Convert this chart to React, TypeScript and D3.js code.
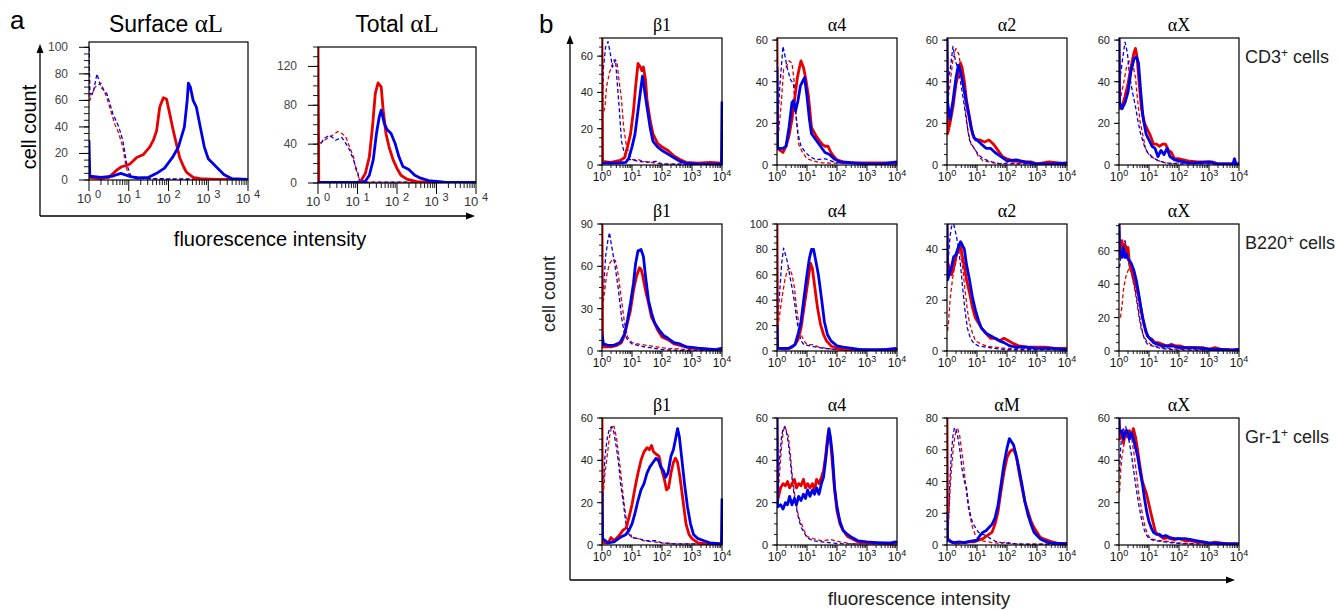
import React from "react";
import * as d3 from "d3";

type Pt = [number, number];

// x values are log10 fluorescence (decades 0..4), y values are cell counts

// ---- panel a, Surface alphaL ----
const surfRedSolid: Pt[] = [[0,2],[0.3,1],[0.5,2],[0.61,5],[0.72,8],[0.82,10],[0.95,11],[1.03,12],[1.2,17],[1.36,19],[1.53,25],[1.62,30],[1.7,37],[1.78,55],[1.87,62],[1.95,61],[2.03,50],[2.1,40],[2.16,32],[2.28,17],[2.38,10],[2.45,6],[2.62,2],[2.8,1],[3.2,0.5],[4,0.5]];
const surfBlueSolid: Pt[] = [[0,30],[0.02,3],[0.3,2],[0.6,3],[0.8,5],[1.0,3],[1.2,1.5],[1.5,2],[1.7,5],[1.9,9],[2.1,17],[2.25,25],[2.4,40],[2.47,60],[2.5,73],[2.55,70],[2.62,60],[2.7,55],[2.8,40],[2.9,25],[3.0,16],[3.2,10],[3.4,4],[3.6,1],[4,0.5]];
const surfRedDash: Pt[] = [[0,100],[0.02,60],[0.15,70],[0.3,73],[0.45,62],[0.55,52],[0.65,42],[0.75,35],[0.85,25],[0.93,10],[1.0,4],[1.3,1],[2,0.5],[4,0.5]];
const surfBlueDash: Pt[] = [[0,100],[0.02,65],[0.1,65],[0.2,80],[0.3,70],[0.45,65],[0.6,50],[0.75,40],[0.85,30],[0.95,12],[1.05,3],[1.5,1],[4,0.5]];

// ---- panel a, Total alphaL ----
const totRedSolid: Pt[] = [[0,140],[0.02,0.5],[1.0,0.5],[1.1,3],[1.2,10],[1.3,27],[1.38,58],[1.45,92],[1.52,103],[1.6,99],[1.65,75],[1.72,51],[1.8,37],[1.9,24],[2.0,15],[2.1,8],[2.25,4],[2.5,1.5],[2.8,0.5],[4,0.5]];
const totBlueSolid: Pt[] = [[0,0.5],[1.1,0.5],[1.2,2],[1.3,8],[1.4,24],[1.48,51],[1.55,68],[1.6,75],[1.68,61],[1.75,55],[1.85,51],[1.95,41],[2.05,27],[2.15,17],[2.3,14],[2.45,8],[2.6,5],[2.8,2.5],[3.2,1],[3.8,0.5],[4,0.5]];
const totRedDash: Pt[] = [[0,140],[0.02,40],[0.2,45],[0.4,50],[0.5,53],[0.6,51],[0.7,48],[0.8,37],[0.9,27],[0.95,15],[1.0,10],[1.05,3],[1.2,1],[3.5,1],[4,0.5]];
const totBlueDash: Pt[] = [[0,35],[0.15,46],[0.3,49],[0.45,44],[0.6,47],[0.7,41],[0.8,34],[0.9,24],[0.95,17],[1.0,12],[1.05,3],[1.2,1],[4,0.5]];

// ---- panel b, CD3+ row ----
const cd3B1RS: Pt[] = [[0,70],[0.02,2],[0.3,1.5],[0.6,2.5],[0.75,4],[0.85,10],[0.95,17],[1.05,30],[1.12,43],[1.2,56],[1.28,54],[1.33,52],[1.38,54],[1.45,47],[1.5,36],[1.6,25],[1.7,17],[1.85,12],[2.0,10],[2.2,8],[2.4,5],[2.6,3],[2.8,1.5],[3.2,1],[3.6,1.5],[4,1]];
const cd3B1BS: Pt[] = [[0,1],[0.5,1],[0.8,1.5],[0.9,4],[1.0,10],[1.1,17],[1.2,30],[1.3,43],[1.35,49],[1.42,41],[1.5,32],[1.6,21],[1.7,13],[1.85,10],[2.0,8],[2.2,6],[2.4,4],[2.6,2],[2.8,1],[3.2,0.5],[3.98,0.5],[4,35]];
const cd3B1RD: Pt[] = [[0,26],[0.1,32],[0.15,43],[0.25,51],[0.4,58],[0.5,57],[0.55,49],[0.65,36],[0.72,21],[0.8,12],[0.9,6],[1.0,3],[1.2,3],[1.4,2],[1.8,1],[2.2,0.5],[4,0.5]];
const cd3B1BD: Pt[] = [[0,17],[0.05,54],[0.12,65],[0.2,68],[0.27,62],[0.35,54],[0.45,58],[0.5,47],[0.58,30],[0.65,13],[0.75,6],[0.85,3],[1.0,3],[1.2,2],[1.5,1.5],[1.8,2],[2.0,0.5],[4,0.5]];

const cd3A4RS: Pt[] = [[0,61],[0.02,8],[0.2,6],[0.3,9],[0.4,14],[0.5,22],[0.6,33],[0.68,42],[0.75,47],[0.8,50],[0.88,47],[0.95,42],[1.05,33],[1.15,18],[1.3,14],[1.4,12],[1.5,10],[1.6,9],[1.7,9],[1.8,6],[1.9,4],[2.0,2.5],[2.2,1.5],[2.6,1],[3.2,1],[4,1]];
const cd3A4BS: Pt[] = [[0,47],[0.02,8],[0.2,8],[0.3,9],[0.4,18],[0.5,30],[0.55,31],[0.62,26],[0.7,31],[0.78,38],[0.85,40],[0.92,42],[1.0,33],[1.08,22],[1.15,15],[1.3,12],[1.45,9],[1.6,6],[1.75,5],[1.9,3],[2.1,1.5],[2.5,1],[3,0.5],[3.5,0.5],[4,1.5]];
const cd3A4RD: Pt[] = [[0.02,10],[0.15,31],[0.22,46],[0.3,47],[0.4,50],[0.5,49],[0.58,39],[0.65,22],[0.72,10],[0.85,6],[1.0,3],[1.2,2],[1.5,1],[4,0.5]];
const cd3A4BD: Pt[] = [[0.02,20],[0.1,39],[0.2,57],[0.27,52],[0.35,46],[0.45,41],[0.55,39],[0.62,25],[0.7,15],[0.8,9],[0.95,6],[1.1,4],[1.3,2.5],[1.6,3],[1.8,2],[2.0,1],[4,0.5]];

const cd3A2RS: Pt[] = [[0,61],[0.02,15],[0.1,20],[0.2,28],[0.3,39],[0.4,45],[0.45,49],[0.5,47],[0.58,40],[0.65,31],[0.75,23],[0.85,15],[0.95,12],[1.1,12],[1.25,11],[1.4,12],[1.55,10],[1.7,7],[1.85,4],[2.0,3],[2.2,2],[2.5,1.5],[2.8,1.5],[3.0,0.5],[3.4,1.5],[3.7,1],[4,0.5]];
const cd3A2BS: Pt[] = [[0,61],[0.02,30],[0.1,22],[0.2,31],[0.3,42],[0.38,48],[0.45,45],[0.52,40],[0.6,34],[0.7,26],[0.8,18],[0.9,13],[1.0,12],[1.15,10],[1.3,8],[1.45,8],[1.6,6],[1.8,4],[2.0,2],[2.3,2.5],[2.6,1.5],[3,0.5],[3.5,0.5],[4,1]];
const cd3A2RD: Pt[] = [[0.02,30],[0.1,39],[0.2,51],[0.3,56],[0.4,53],[0.5,42],[0.6,29],[0.7,16],[0.8,10],[0.95,7],[1.05,4],[1.2,2],[1.4,1.5],[1.7,0.5],[2,1],[4,0.5]];
const cd3A2BD: Pt[] = [[0.02,40],[0.1,45],[0.2,57],[0.28,50],[0.35,47],[0.45,40],[0.55,31],[0.65,21],[0.75,12],[0.9,8],[1.05,5],[1.2,3],[1.5,1.5],[1.8,0.5],[4,0.5]];

const cd3AXRS: Pt[] = [[0,61],[0.02,27],[0.1,28],[0.2,33],[0.3,39],[0.4,47],[0.5,54],[0.55,56],[0.6,52],[0.68,38],[0.75,27],[0.85,20],[0.95,17],[1.05,14],[1.15,10],[1.25,10],[1.35,9],[1.45,10],[1.55,10],[1.65,7],[1.75,6],[1.85,3],[2.0,3],[2.3,2],[2.6,1.5],[2.9,1.5],[3.1,1.5],[3.3,0.5],[4,0.5]];
const cd3AXBS: Pt[] = [[0,61],[0.02,30],[0.1,27],[0.2,30],[0.3,35],[0.4,45],[0.5,51],[0.58,52],[0.65,49],[0.72,36],[0.8,23],[0.9,15],[1.0,12],[1.1,9],[1.2,8],[1.3,4],[1.4,7],[1.5,5],[1.6,8],[1.7,4],[1.85,2.5],[2.0,2],[2.3,1],[2.6,1],[3,1.5],[3.3,0.5],[3.8,0.5],[3.85,3],[3.9,0.5],[4,0.5]];
const cd3AXRD: Pt[] = [[0.02,30],[0.15,39],[0.25,47],[0.35,50],[0.45,49],[0.55,42],[0.62,31],[0.7,21],[0.8,14],[0.9,7],[1.05,4],[1.2,3],[1.4,1.5],[1.7,0.5],[2,1],[4,0.5]];
const cd3AXBD: Pt[] = [[0.02,40],[0.12,51],[0.2,59],[0.28,54],[0.35,43],[0.45,35],[0.55,28],[0.62,22],[0.72,15],[0.85,9],[0.95,6],[1.1,4],[1.3,2],[1.6,1],[2,0.5],[4,0.5]];

// ---- panel b, B220+ row ----
const b220B1RS: Pt[] = [[0,90],[0.02,3],[0.3,3],[0.5,4],[0.65,6],[0.75,11],[0.85,20],[0.95,29],[1.05,43],[1.15,53],[1.25,59],[1.3,58],[1.35,54],[1.45,43],[1.55,34],[1.65,24],[1.75,20],[1.85,15],[2.0,10],[2.2,8],[2.4,5],[2.6,4],[2.8,3],[3.0,2],[3.3,1.5],[3.6,1],[4,0.5]];
const b220B1BS: Pt[] = [[0,12],[0.05,5],[0.2,4],[0.4,4],[0.6,6],[0.75,12],[0.85,22],[0.95,34],[1.05,48],[1.12,62],[1.2,71],[1.3,72],[1.38,67],[1.45,53],[1.55,36],[1.65,27],[1.75,20],[1.9,15],[2.05,11],[2.2,9],[2.4,6],[2.6,5],[2.8,3],[3.0,2.5],[3.2,2],[3.5,1.5],[3.8,1],[4,2]];
const b220B1RD: Pt[] = [[0.02,30],[0.05,36],[0.15,53],[0.25,62],[0.35,65],[0.45,64],[0.55,53],[0.65,36],[0.75,20],[0.85,10],[1.0,6],[1.2,5],[1.5,4],[1.8,3],[2.1,2],[2.5,1.5],[3,1],[4,0.5]];
const b220B1BD: Pt[] = [[0.02,30],[0.05,43],[0.12,67],[0.2,79],[0.25,84],[0.3,77],[0.38,67],[0.45,58],[0.55,43],[0.65,24],[0.75,12],[0.85,8],[1.0,5],[1.2,4],[1.4,3],[1.7,2],[2,1],[2.5,0.5],[4,0.5]];

const b220A4RS: Pt[] = [[0,100],[0.02,2],[0.3,1.5],[0.5,3],[0.6,5],[0.7,9],[0.8,18],[0.9,34],[1.0,50],[1.08,63],[1.12,69],[1.18,65],[1.25,52],[1.35,34],[1.45,21],[1.55,13],[1.65,8],[1.8,4],[2.0,2],[2.3,1],[2.7,1],[3.2,0.5],[3.7,1],[4,0.5]];
const b220A4BS: Pt[] = [[0,20],[0.02,2],[0.4,2],[0.6,5],[0.7,13],[0.8,23],[0.9,42],[1.0,60],[1.08,73],[1.15,80],[1.22,80],[1.3,70],[1.38,60],[1.48,42],[1.58,23],[1.68,13],[1.8,8],[2.0,4],[2.2,3],[2.5,2],[2.8,1],[3.2,1],[3.6,1],[3.95,2],[4,1]];
const b220A4RD: Pt[] = [[0.02,18],[0.12,34],[0.2,47],[0.27,57],[0.35,64],[0.42,65],[0.5,60],[0.58,50],[0.65,34],[0.72,23],[0.8,13],[0.9,8],[1.0,5],[1.2,5],[1.4,3],[1.7,2],[2,1],[4,0.5]];
const b220A4BD: Pt[] = [[0.02,23],[0.1,50],[0.16,70],[0.22,81],[0.28,76],[0.35,70],[0.42,60],[0.5,50],[0.58,39],[0.65,26],[0.72,16],[0.8,8],[0.9,5],[1.1,4],[1.3,3],[1.6,2],[2,1],[4,0.5]];

const b220A2RS: Pt[] = [[0,50],[0.02,35],[0.15,30],[0.25,34],[0.32,38],[0.4,40],[0.45,42],[0.5,38],[0.58,33],[0.65,28],[0.75,23],[0.85,17],[0.95,13],[1.05,11],[1.15,9],[1.3,7],[1.45,5],[1.6,5],[1.75,4],[1.9,5],[2.05,4],[2.2,3],[2.4,2],[2.7,1.5],[3.0,1.5],[3.3,1.5],[3.6,1],[4,1]];
const b220A2BS: Pt[] = [[0,50],[0.02,28],[0.15,33],[0.22,37],[0.3,38],[0.38,41],[0.45,43],[0.5,42],[0.58,40],[0.65,34],[0.75,28],[0.85,21],[0.95,16],[1.05,12],[1.15,9],[1.3,7],[1.45,6],[1.6,5],[1.75,4],[1.9,3.3],[2.1,2],[2.3,1.5],[2.6,1.5],[3,1],[3.5,1],[4,0.5]];
const b220A2RD: Pt[] = [[0.02,8],[0.05,11],[0.1,20],[0.18,28],[0.25,33],[0.32,38],[0.4,41],[0.45,40],[0.52,33],[0.6,24],[0.68,16],[0.75,11],[0.85,7],[0.95,4],[1.1,3],[1.3,2],[1.6,1.5],[2,1],[4,0.5]];
const b220A2BD: Pt[] = [[0.02,30],[0.05,37],[0.1,45],[0.15,49],[0.22,50],[0.3,46],[0.38,41],[0.45,34],[0.52,25],[0.6,16],[0.68,9],[0.78,5],[0.9,3],[1.05,2],[1.3,1.5],[1.6,1],[2,0.5],[4,0.5]];

const b220AXRS: Pt[] = [[0,76],[0.02,56],[0.1,66],[0.15,58],[0.2,64],[0.25,56],[0.3,62],[0.35,52],[0.42,48],[0.5,44],[0.6,37],[0.68,31],[0.75,23],[0.82,17],[0.9,11],[1.0,8],[1.1,7],[1.2,5],[1.3,5],[1.45,4],[1.6,3],[1.75,4],[1.9,3],[2.05,3],[2.2,2],[2.4,2],[2.6,2],[2.8,2],[3.0,1],[3.2,2],[3.4,1],[3.6,1],[3.8,0.5],[4,1]];
const b220AXBS: Pt[] = [[0,76],[0.02,60],[0.1,56],[0.15,62],[0.2,56],[0.25,58],[0.3,55],[0.35,54],[0.42,52],[0.5,48],[0.58,42],[0.65,35],[0.72,27],[0.8,19],[0.88,13],[0.95,9],[1.05,7],[1.15,5],[1.3,4],[1.45,3],[1.6,3],[1.8,3],[2.0,2],[2.2,2],[2.5,2],[2.8,1.5],[3.1,1],[3.4,1],[3.7,0.5],[4,1]];
const b220AXRD: Pt[] = [[0.05,20],[0.1,27],[0.15,37],[0.2,42],[0.25,46],[0.3,48],[0.35,50],[0.42,46],[0.5,39],[0.58,31],[0.66,21],[0.74,13],[0.82,9],[0.92,6],[1.05,4],[1.2,3],[1.4,2],[1.7,1.5],[2,1],[4,0.5]];
const b220AXBD: Pt[] = [[0.02,50],[0.05,56],[0.12,62],[0.2,66],[0.25,62],[0.3,56],[0.38,50],[0.45,44],[0.52,39],[0.6,31],[0.68,21],[0.76,13],[0.85,7],[0.95,4],[1.1,3],[1.3,2],[1.6,1],[2,0.5],[4,0.5]];

// ---- panel b, Gr-1+ row ----
const gr1B1RS: Pt[] = [[0,60],[0.02,1],[0.2,1],[0.3,3.5],[0.4,2],[0.5,3.5],[0.6,5],[0.7,7],[0.8,8],[0.9,13],[1.0,19],[1.1,27],[1.2,34],[1.3,40],[1.4,44],[1.5,46],[1.58,45],[1.65,47],[1.72,44],[1.8,43],[1.9,42],[2.0,35],[2.08,31],[2.15,26],[2.22,27],[2.3,34],[2.38,39],[2.45,41],[2.52,39],[2.6,32],[2.7,21],[2.8,10],[2.9,5],[3.0,3],[3.2,1],[3.5,0.5],[4,0.5]];
const gr1B1BS: Pt[] = [[0,25],[0.02,3],[0.2,1],[0.4,1.5],[0.6,3.5],[0.8,5],[0.9,7],[1.0,10],[1.1,15],[1.2,21],[1.3,26],[1.4,29],[1.5,34],[1.6,37],[1.7,39],[1.8,41],[1.88,40],[1.95,37],[2.05,35],[2.12,32],[2.2,34],[2.3,42],[2.38,45],[2.45,50],[2.52,55],[2.58,51],[2.65,42],[2.75,29],[2.85,18],[2.95,10],[3.05,5],[3.2,3],[3.4,2],[3.6,1],[3.98,0.5],[4,22]];
const gr1B1RD: Pt[] = [[0.02,20],[0.05,25],[0.1,34],[0.18,43],[0.25,51],[0.32,56],[0.4,56],[0.48,51],[0.55,43],[0.62,35],[0.7,24],[0.8,13],[0.9,7],[1.0,3.5],[1.2,3],[1.4,2],[1.7,1.5],[2,1],[2.5,0.5],[4,0.5]];
const gr1B1BD: Pt[] = [[0.02,25],[0.05,30],[0.1,42],[0.18,51],[0.25,55],[0.33,56],[0.4,53],[0.48,46],[0.55,39],[0.62,29],[0.7,21],[0.8,10],[0.9,5],[1.0,3.5],[1.2,3],[1.5,2],[1.8,2],[2.0,1],[2.4,0.5],[4,0.5]];

const gr1A4RS: Pt[] = [[0,60],[0.02,21],[0.12,27],[0.2,29],[0.28,28],[0.35,30],[0.42,27],[0.5,29],[0.58,31],[0.65,27],[0.72,29],[0.8,28],[0.88,31],[0.95,27],[1.02,29],[1.1,27],[1.18,29],[1.25,26],[1.32,31],[1.4,29],[1.48,32],[1.55,35],[1.62,42],[1.68,50],[1.72,54],[1.78,50],[1.85,38],[1.92,26],[2.0,16],[2.1,10],[2.2,7],[2.35,4],[2.5,3],[2.7,1.5],[3.0,1],[3.4,1],[3.8,0.5],[4,1]];
const gr1A4BS: Pt[] = [[0,60],[0.02,18],[0.12,19],[0.2,17],[0.28,20],[0.35,19],[0.42,23],[0.5,19],[0.58,22],[0.65,19],[0.72,23],[0.8,21],[0.88,24],[0.95,22],[1.02,26],[1.1,23],[1.18,26],[1.25,24],[1.32,27],[1.4,24],[1.48,29],[1.55,32],[1.62,40],[1.68,48],[1.73,55],[1.78,51],[1.85,42],[1.92,27],[2.0,18],[2.1,11],[2.2,7],[2.35,5],[2.5,3.5],[2.7,2],[3.0,1.5],[3.4,1],[3.8,1],[3.95,1.5],[4,1]];
const gr1A4RD: Pt[] = [[0.02,20],[0.05,26],[0.1,37],[0.15,46],[0.2,53],[0.25,56],[0.32,54],[0.38,51],[0.45,42],[0.52,31],[0.6,23],[0.68,16],[0.75,12],[0.82,10],[0.9,7],[1.0,4],[1.2,3],[1.5,2],[1.8,2.5],[2.1,1.5],[2.5,0.5],[4,0.5]];
const gr1A4BD: Pt[] = [[0.02,25],[0.05,34],[0.1,43],[0.15,51],[0.2,55],[0.26,56],[0.32,53],[0.38,48],[0.45,39],[0.52,29],[0.6,21],[0.68,15],[0.75,11],[0.82,8],[0.9,6],[1.0,3.5],[1.2,2],[1.5,1.5],[1.8,1],[2.2,0.5],[4,0.5]];

const gr1AMRS: Pt[] = [[0,80],[0.02,4],[0.15,2],[0.3,1],[0.5,1.5],[0.7,2],[0.9,2],[1.05,3],[1.2,4],[1.35,6],[1.5,8],[1.6,13],[1.7,21],[1.8,34],[1.9,46],[2.0,55],[2.1,59],[2.18,60],[2.25,59],[2.32,55],[2.4,46],[2.5,36],[2.6,27],[2.7,21],[2.8,15],[2.9,11],[3.0,8],[3.1,5],[3.2,4],[3.35,3],[3.5,2],[3.7,1],[4,1]];
const gr1AMBS: Pt[] = [[0,20],[0.02,3],[0.2,1.5],[0.4,2],[0.6,1.5],[0.8,2.5],[1.0,3],[1.1,6],[1.2,8],[1.3,9],[1.4,11],[1.5,13],[1.6,17],[1.7,25],[1.8,38],[1.9,51],[2.0,61],[2.08,67],[2.15,65],[2.22,63],[2.3,57],[2.4,48],[2.5,38],[2.6,27],[2.7,19],[2.8,13],[2.9,8],[3.0,6],[3.1,4],[3.25,2.5],[3.4,1.5],[3.6,1],[3.8,1],[4,0.5]];
const gr1AMRD: Pt[] = [[0.02,8],[0.05,13],[0.1,34],[0.15,48],[0.2,59],[0.25,67],[0.3,72],[0.36,73],[0.42,69],[0.48,61],[0.55,51],[0.62,38],[0.7,25],[0.78,17],[0.85,11],[0.95,6],[1.05,4],[1.2,2.5],[1.5,1.5],[1.8,1],[2.0,2],[2.1,1],[2.5,0.5],[4,0.5]];
const gr1AMBD: Pt[] = [[0.02,10],[0.05,17],[0.1,42],[0.15,59],[0.2,69],[0.25,74],[0.3,73],[0.35,69],[0.42,61],[0.5,48],[0.58,40],[0.65,36],[0.72,25],[0.8,17],[0.88,13],[0.95,11],[1.05,8],[1.15,7],[1.3,6],[1.45,4],[1.6,2.5],[1.8,1.5],[2.1,1],[2.5,0.5],[4,0.5]];

const gr1AXRS: Pt[] = [[0,60],[0.02,50],[0.1,53],[0.15,48],[0.2,54],[0.28,51],[0.35,54],[0.42,51],[0.48,55],[0.55,51],[0.62,45],[0.7,37],[0.78,30],[0.85,27],[0.92,24],[1.0,19],[1.08,14],[1.15,10],[1.22,6],[1.3,5],[1.4,4],[1.5,3],[1.6,3.5],[1.7,3],[1.85,2.5],[2.0,3],[2.2,2],[2.4,2],[2.6,1.5],[2.8,1.3],[3.0,0.8],[3.2,1.3],[3.5,0.8],[3.8,0.6],[4,0.5]];
const gr1AXBS: Pt[] = [[0,60],[0.02,53],[0.1,54],[0.15,50],[0.2,53],[0.27,54],[0.35,50],[0.42,53],[0.48,50],[0.55,46],[0.62,42],[0.7,35],[0.78,29],[0.85,22],[0.92,16],[1.0,11],[1.08,8],[1.15,6],[1.25,5],[1.35,5],[1.45,4],[1.55,4.5],[1.7,3.5],[1.85,3],[2.0,3],[2.2,3],[2.4,2.5],[2.6,2],[2.8,1.5],[3.0,1],[3.3,0.8],[3.6,0.6],[4,0.5]];
const gr1AXRD: Pt[] = [[0.02,25],[0.05,34],[0.1,42],[0.15,46],[0.2,51],[0.28,53],[0.35,54],[0.42,51],[0.5,43],[0.58,34],[0.66,24],[0.74,18],[0.8,13],[0.88,8],[0.95,5],[1.05,3],[1.2,2.5],[1.4,2],[1.7,1.5],[2,1],[2.5,0.5],[4,0.5]];
const gr1AXBD: Pt[] = [[0.02,35],[0.05,45],[0.1,53],[0.15,55],[0.22,56],[0.28,53],[0.35,48],[0.42,42],[0.5,34],[0.58,26],[0.66,19],[0.74,13],[0.82,8],[0.9,5],[1.0,3],[1.2,2],[1.5,1.5],[1.8,1],[2.2,0.5],[4,0.5]];

// axis labels
const xExponents = [0, 1, 2, 3, 4];
const colTitles = [["β1", "α4", "α2", "αX"], ["β1", "α4", "α2", "αX"], ["β1", "α4", "αM", "αX"]];
const rowLabels = ["CD3", "B220", "Gr-1"];
const rowYMax = [[70, 61, 61, 61], [90, 100, 50, 76], [60, 60, 80, 60]];
const rowYTicks = [
  [[0, 20, 40, 60], [0, 20, 40, 60], [0, 20, 40, 60], [0, 20, 40, 60]],
  [[0, 30, 60, 90], [0, 20, 40, 60, 80, 100], [0, 20, 40], [0, 20, 40, 60]],
  [[0, 20, 40, 60], [0, 20, 40, 60], [0, 20, 40, 60, 80], [0, 20, 40, 60]],
];
const rowCurves: Pt[][][][] = [
  [[cd3B1RD, cd3B1BD, cd3B1RS, cd3B1BS], [cd3A4RD, cd3A4BD, cd3A4RS, cd3A4BS], [cd3A2RD, cd3A2BD, cd3A2RS, cd3A2BS], [cd3AXRD, cd3AXBD, cd3AXRS, cd3AXBS]],
  [[b220B1RD, b220B1BD, b220B1RS, b220B1BS], [b220A4RD, b220A4BD, b220A4RS, b220A4BS], [b220A2RD, b220A2BD, b220A2RS, b220A2BS], [b220AXRD, b220AXBD, b220AXRS, b220AXBS]],
  [[gr1B1RD, gr1B1BD, gr1B1RS, gr1B1BS], [gr1A4RD, gr1A4BD, gr1A4RS, gr1A4BS], [gr1AMRD, gr1AMBD, gr1AMRS, gr1AMBS], [gr1AXRD, gr1AXBD, gr1AXRS, gr1AXBS]],
];

const RED = "#e60000";
const BLUE = "#0000e6";
const SANS = "'Liberation Sans', Arial, Helvetica, sans-serif";
const SERIF = "'Liberation Serif', 'Times New Roman', serif";
// dashed red, dashed blue, solid red, solid blue
const STYLES = [
  { c: RED, w: 1.3, dash: "4 2.5" },
  { c: BLUE, w: 1.3, dash: "4 2.5" },
  { c: RED, w: 2.8, dash: undefined },
  { c: BLUE, w: 2.8, dash: undefined },
];

type HistoProps = {
  id: string;
  x0: number; y0: number; w: number; h: number;
  yMax: number; yTicks: number[];
  curves: Pt[][];
  big?: boolean;
};

function Histo({ id, x0, y0, w, h, yMax, yTicks, curves, big }: HistoProps) {
  const x = d3.scaleLinear().domain([0, 4]).range([x0, x0 + w]);
  const y = d3.scaleLinear().domain([0, yMax]).range([y0 + h, y0]);
  const line = d3.line<Pt>().x((d) => x(d[0])).y((d) => y(Math.min(d[1], yMax)));
  const step = yTicks[1] - yTicks[0];
  const minorY = d3.range(0, yMax + 0.01, step / 4);
  const minorX: number[] = [];
  for (let k = 0; k < 4; k++) for (let m = 2; m < 10; m++) minorX.push(k + Math.log10(m));
  const majLen = big ? 10 : 5;
  const minLen = big ? 5 : 3;
  const labelGap = big ? 21 : 9;
  const xLabDy = big ? 23 : 16;
  const fs = big ? 12 : 11;
  return (
    <g>
      <defs>
        <clipPath id={id}>
          <rect x={x0} y={y0 - 1} width={w + 1} height={h + 1} />
        </clipPath>
      </defs>
      <g clipPath={`url(#${id})`}>
        {curves.map((c, i) => (
          <path key={i} d={line(c) || ""} fill="none" stroke={STYLES[i].c}
            strokeWidth={STYLES[i].w} strokeDasharray={STYLES[i].dash} strokeLinejoin="round" />
        ))}
      </g>
      <rect x={x0} y={y0} width={w} height={h} fill="none" stroke="#000" strokeWidth={1.2} />
      {minorY.map((v, i) => (
        <line key={"my" + i} x1={x0 - minLen} x2={x0} y1={y(v)} y2={y(v)} stroke="#000" strokeWidth={0.9} />
      ))}
      {yTicks.map((v) => (
        <g key={"y" + v}>
          <line x1={x0 - majLen} x2={x0} y1={y(v)} y2={y(v)} stroke="#000" strokeWidth={1} />
          <text x={x0 - labelGap} y={y(v) + 4} textAnchor="end" fontSize={fs} fontFamily={SANS} fill={big ? "#444" : "#222"}>{v}</text>
        </g>
      ))}
      {minorX.map((v, i) => (
        <line key={"mx" + i} x1={x(v)} x2={x(v)} y1={y0 + h} y2={y0 + h + minLen} stroke="#000" strokeWidth={0.9} />
      ))}
      {xExponents.map((k) => (
        <g key={"x" + k}>
          <line x1={x(k)} x2={x(k)} y1={y0 + h} y2={y0 + h + majLen + 1} stroke="#000" strokeWidth={1} />
          <text x={x(k)} y={y0 + h + xLabDy} textAnchor="middle" fontSize={big ? 13 : 12} fontFamily={SANS} fill={big ? "#333" : "#111"}>
            {big ? "10 " : "10"}
            <tspan dy={-5} fontSize={big ? 11 : 9}>{k}</tspan>
          </text>
        </g>
      ))}
    </g>
  );
}

function Arrow({ x1, y1, x2, y2 }: { x1: number; y1: number; x2: number; y2: number }) {
  const ang = Math.atan2(y2 - y1, x2 - x1);
  const L = 9, W = 3.5;
  const bx = x2 - L * Math.cos(ang), by = y2 - L * Math.sin(ang);
  const px = -Math.sin(ang) * W, py = Math.cos(ang) * W;
  return (
    <g>
      <line x1={x1} y1={y1} x2={bx} y2={by} stroke="#000" strokeWidth={1.3} />
      <path d={`M${x2},${y2}L${bx + px},${by + py}L${bx - px},${by - py}Z`} fill="#000" />
    </g>
  );
}

const colX = [602, 777, 947, 1119];
const rowY = [38, 224, 418];
const BW = 120, BH = 127;

export default function App() {
  return (
    <svg width={1340} height={610} style={{ position: "absolute", left: 0, top: 0, background: "#fff" }}>
      {/* panel a */}
      <text x={10} y={29} fontSize={26} fontFamily={SANS}>a</text>
      <text x={166} y={32} textAnchor="middle" fontSize={23} fontFamily={SANS}>
        Surface <tspan fontFamily={SERIF} fontSize={25}>αL</tspan>
      </text>
      <text x={397} y={32} textAnchor="middle" fontSize={23} fontFamily={SANS}>
        Total <tspan fontFamily={SERIF} fontSize={25}>αL</tspan>
      </text>
      <Histo id="cpa1" x0={89} y0={42} w={159} h={138} yMax={104} yTicks={[0, 20, 40, 60, 80, 100]}
        curves={[surfRedDash, surfBlueDash, surfRedSolid, surfBlueSolid]} big />
      <Histo id="cpa2" x0={318} y0={47} w={158} h={136} yMax={140} yTicks={[0, 40, 80, 120]}
        curves={[totRedDash, totBlueDash, totRedSolid, totBlueSolid]} big />
      <Arrow x1={40} y1={216} x2={40} y2={44} />
      <Arrow x1={40} y1={216} x2={475} y2={216} />
      <text transform="translate(36,127) rotate(-90)" textAnchor="middle" fontSize={20} fontFamily={SANS}>cell count</text>
      <text x={270} y={246} textAnchor="middle" fontSize={20} fontFamily={SANS}>fluorescence intensity</text>

      {/* panel b */}
      <text x={539} y={33} fontSize={26} fontFamily={SANS}>b</text>
      <Arrow x1={570} y1={580} x2={570} y2={35} />
      <Arrow x1={570} y1={580} x2={1235} y2={580} />
      <text transform="translate(555,294) rotate(-90)" textAnchor="middle" fontSize={18} fontFamily={SANS} fill="#222">cell count</text>
      <text x={919} y={605} textAnchor="middle" fontSize={19} fontFamily={SANS} fill="#222">fluorescence intensity</text>
      {rowY.map((ry, r) => (
        <g key={"row" + r}>
          {colX.map((cx, c) => (
            <g key={"p" + r + c}>
              <text x={cx + BW / 2} y={ry - 7} textAnchor="middle" fontSize={18} fontFamily={SERIF}>{colTitles[r][c]}</text>
              <Histo id={`cp${r}${c}`} x0={cx} y0={ry} w={BW} h={BH} yMax={rowYMax[r][c]}
                yTicks={rowYTicks[r][c]} curves={rowCurves[r][c]} />
            </g>
          ))}
          <text x={1245} y={ry + 25} fontSize={18} fontFamily={SANS} fill="#222">
            {rowLabels[r]}<tspan dy={-6} fontSize={12}>+</tspan><tspan dy={6}> cells</tspan>
          </text>
        </g>
      ))}
    </svg>
  );
}
